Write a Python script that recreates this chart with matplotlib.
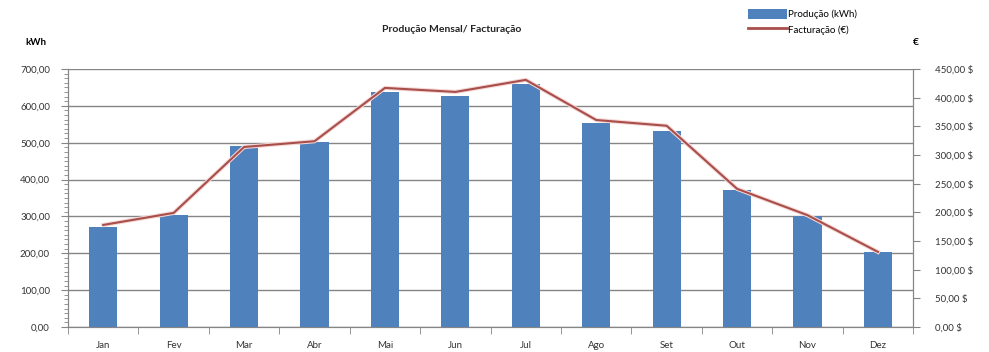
import matplotlib.pyplot as plt
import matplotlib.patheffects as pe
from matplotlib.ticker import FixedLocator, MultipleLocator, FuncFormatter
from matplotlib.patches import Patch
from matplotlib.lines import Line2D
import numpy as np

plt.rcParams["font.family"] = ["Lato", "DejaVu Sans"]

months = ["Jan", "Fev", "Mar", "Abr", "Mai", "Jun",
          "Jul", "Ago", "Set", "Out", "Nov", "Dez"]
producao_kwh = [271, 304, 492, 503, 637, 627, 659, 553, 532, 372, 301, 203]
facturacao_eur = [178, 199, 314, 324, 417, 410, 431, 361, 351, 241, 195, 131]

bar_color = "#4F81BD"
line_color = "#A84E4B"
grid_color = "#858585"
text_color = "#333333"

fig = plt.figure(figsize=(9.89, 3.52), dpi=100)
ax = fig.add_axes([0.0688, 0.071, 0.8545, 0.733])
ax2 = ax.twinx()

x = np.arange(len(months))
ax.bar(x, producao_kwh, width=0.4, color=bar_color, zorder=3)
ax.set_xlim(-0.5, len(months) - 0.5)
ax.set_ylim(0, 700)

ax2.plot(x, facturacao_eur, color=line_color, lw=1.5, zorder=4,
         path_effects=[pe.Stroke(linewidth=3, foreground="#F5D6D4"), pe.Normal()])
ax2.set_ylim(0, 450)

# gridlines on the kWh scale
ax.yaxis.set_major_locator(MultipleLocator(100))
ax.yaxis.set_minor_locator(MultipleLocator(12.5))
ax.grid(axis="y", color=grid_color, lw=1.0, zorder=0)
ax.set_axisbelow(True)

ax.yaxis.set_major_formatter(FuncFormatter(lambda v, p: f"{v:.2f}".replace(".", ",")))
ax2.yaxis.set_major_locator(MultipleLocator(50))
ax2.yaxis.set_major_formatter(FuncFormatter(lambda v, p: f"{v:.2f}".replace(".", ",") + " $"))

# month labels centred, tick marks between categories
ax.set_xticks(x)
ax.set_xticklabels(months)
ax.xaxis.set_minor_locator(FixedLocator(np.arange(-0.5, len(months) + 0.5, 1)))
ax.tick_params(axis="x", which="major", length=0, pad=10, labelsize=7, colors=text_color)
ax.tick_params(axis="x", which="minor", length=5, color=grid_color)
ax.tick_params(axis="y", which="major", length=5, pad=8, labelsize=7,
               color=grid_color, labelcolor=text_color)
ax.tick_params(axis="y", which="minor", length=3, color=grid_color)
ax2.tick_params(axis="y", length=5, pad=11, labelsize=7,
                color=grid_color, labelcolor=text_color)

for a in (ax, ax2):
    a.spines["top"].set_visible(False)
    for side in ("left", "right", "bottom"):
        a.spines[side].set_color(grid_color)

fig.text(0.457, 0.915, "Produção Mensal/ Facturação", fontsize=7.5, fontweight="bold",
         ha="center", va="center", color="#222222")
fig.text(0.036, 0.878, "kWh", fontsize=7, fontweight="bold", ha="center", va="center")
fig.text(0.926, 0.878, "€", fontsize=7.5, fontweight="bold", ha="center", va="center")

handles = [Patch(facecolor=bar_color, edgecolor="none", label="Produção (kWh)"),
           Line2D([0], [0], color=line_color, lw=2, label="Facturação (€)")]
fig.legend(handles=handles, loc="upper left", bbox_to_anchor=(0.752, 0.985),
           frameon=False, fontsize=7, handlelength=4.0, handleheight=1.2,
           handletextpad=0.2, labelspacing=0.5, borderaxespad=0)

fig.savefig("out.png", dpi=100)
